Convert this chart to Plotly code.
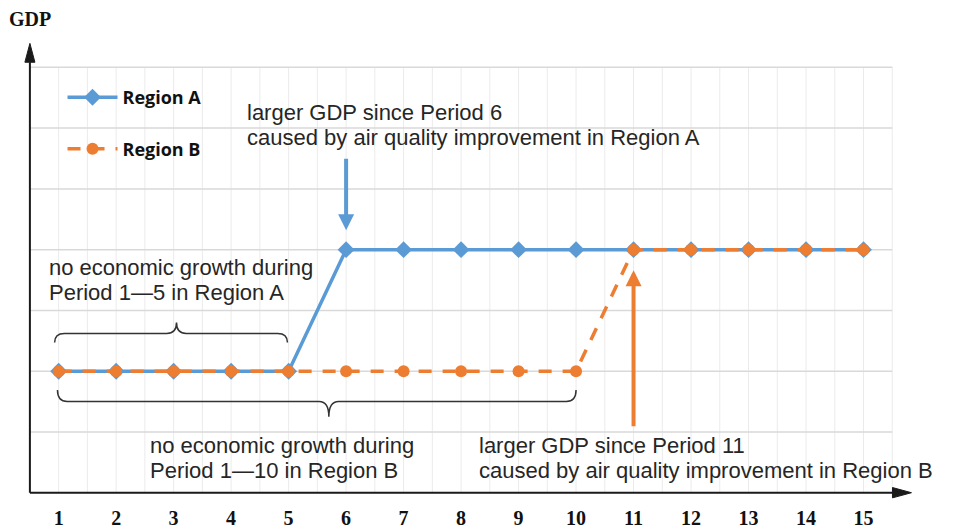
import plotly.graph_objects as go

# ---- data -------------------------------------------------------------
periods = list(range(1, 16))
tick_labels = [str(p) for p in periods]
gdp_region_a = [2, 2, 2, 2, 2, 4, 4, 4, 4, 4, 4, 4, 4, 4, 4]
gdp_region_b = [2, 2, 2, 2, 2, 2, 2, 2, 2, 2, 4, 4, 4, 4, 4]
series_names = ["Region A", "Region B"]
gdp_levels = [1, 2, 3, 4, 5, 6, 7]

note_a_flat = ["no economic growth during", "Period 1\u20145 in Region A"]
note_b_flat = ["no economic growth during", "Period 1\u201410 in Region B"]
note_a_jump = ["larger GDP since Period 6", "caused by air quality improvement in Region A"]
note_b_jump = ["larger GDP since Period 11", "caused by air quality improvement in Region B"]

# ---- styling ----------------------------------------------------------
BLUE = "#5B9BD5"
ORANGE = "#ED7D31"
INK = "#262626"
SANS = "Liberation Sans, Arial, sans-serif"
SERIF = "Liberation Serif, Times New Roman, serif"

X0, X1 = periods[0] - 0.5, periods[-1] + 0.5      # axis origin / grid end
Y0, Y1 = 0, gdp_levels[-1]

fig = go.Figure()

# grid
shapes = []
half_steps = [X0 + 0.5 * k for k in range(1, 2 * len(periods) + 1)]
for gx in half_steps:
    shapes.append(dict(type="line", xref="x", yref="y", x0=gx, x1=gx, y0=Y0, y1=Y1,
                       line=dict(color="#ebebeb", width=1), layer="below"))
for gy in gdp_levels:
    shapes.append(dict(type="line", xref="x", yref="y", x0=X0, x1=X1, y0=gy, y1=gy,
                       line=dict(color="#d9d9d9", width=1.5), layer="below"))

# axes with arrow heads
AX = "#1a1a1a"
x_tip, y_tip = 15.834, 7.394
head_len_x, head_half_x = 0.33, 0.085
head_len_y, head_half_y = 0.31, 0.087
shapes.append(dict(type="line", xref="x", yref="y", x0=X0, x1=x_tip - head_len_x, y0=Y0, y1=Y0,
                   line=dict(color=AX, width=2)))
shapes.append(dict(type="path", xref="x", yref="y",
                   path=f"M{x_tip - head_len_x},{Y0 - head_half_x} L{x_tip},{Y0} L{x_tip - head_len_x},{Y0 + head_half_x} Z",
                   fillcolor=AX, line=dict(color=AX, width=1)))
shapes.append(dict(type="line", xref="x", yref="y", x0=X0, x1=X0, y0=Y0, y1=y_tip - head_len_y,
                   line=dict(color=AX, width=2)))
shapes.append(dict(type="path", xref="x", yref="y",
                   path=f"M{X0 - head_half_y},{y_tip - head_len_y} L{X0},{y_tip} L{X0 + head_half_y},{y_tip - head_len_y} Z",
                   fillcolor=AX, line=dict(color=AX, width=1)))


def brace(xa, xb, xm, y_end, y_mid, y_tip_, r=0.17):
    return (f"M{xa},{y_end} Q{xa},{y_mid} {xa + r},{y_mid} L{xm - r},{y_mid} "
            f"Q{xm},{y_mid} {xm},{y_tip_} Q{xm},{y_mid} {xm + r},{y_mid} "
            f"L{xb - r},{y_mid} Q{xb},{y_mid} {xb},{y_end}")


# brace above the flat stretch of Region A, brace below the flat stretch of Region B
shapes.append(dict(type="path", xref="x", yref="y",
                   path=brace(0.93, 4.98, 3.05, 2.47, 2.62, 2.80),
                   line=dict(color="#333333", width=1.5)))
shapes.append(dict(type="path", xref="x", yref="y",
                   path=brace(0.98, 10.0, 5.7, 1.69, 1.50, 1.25),
                   line=dict(color="#333333", width=1.5)))

# series
fig.add_trace(go.Scatter(
    x=periods, y=gdp_region_a, name=series_names[0], mode="lines+markers",
    line=dict(color=BLUE, width=3.5),
    marker=dict(symbol="diamond", size=13, color=BLUE),
    legend="legend",
))
fig.add_trace(go.Scatter(
    x=periods, y=gdp_region_b, name=series_names[1], mode="lines+markers",
    line=dict(color=ORANGE, width=3.5, dash="13px,11px"),
    marker=dict(symbol="circle", size=12, color=ORANGE),
    legend="legend2",
))

# notes
annotations = []


def note(lines, x, y_first, dy=0.41):
    for i, t in enumerate(lines):
        annotations.append(dict(x=x, y=y_first - i * dy, xref="x", yref="y", text=t,
                                showarrow=False, xanchor="left", yanchor="middle",
                                font=dict(family=SANS, size=22, color=INK)))


note(note_a_flat, 0.79, 3.70)
note(note_b_flat, 2.55, 0.78)
note(note_a_jump, 4.235, 6.25)
note(note_b_jump, 8.27, 0.78)

# arrows pointing at the jumps
annotations.append(dict(x=6, y=4.32, ax=6, ay=5.52, xref="x", yref="y", axref="x", ayref="y",
                        text="", showarrow=True, arrowhead=2, arrowsize=0.8, arrowwidth=4,
                        arrowcolor=BLUE, standoff=0))
annotations.append(dict(x=11, y=3.66, ax=11, ay=1.07, xref="x", yref="y", axref="x", ayref="y",
                        text="", showarrow=True, arrowhead=2, arrowsize=0.8, arrowwidth=4,
                        arrowcolor=ORANGE, standoff=0))

# axis titles
annotations.append(dict(x=0.5, y=1.0, xref="x", yref="paper", text="<b>GDP</b>", showarrow=False,
                        xanchor="center", yanchor="bottom", yshift=8,
                        font=dict(family=SERIF, size=20, color="#111111")))
annotations.append(dict(xref="x", yref="y", x=15.85, y=-0.52, text="<b>Time</b>", showarrow=False,
                        xanchor="left", yanchor="middle",
                        font=dict(family=SERIF, size=20, color="#111111")))

legend_common = dict(
    font=dict(family="Open Sans, sans-serif", size=18, color="#111111", weight="bold"),
    bgcolor="rgba(0,0,0,0)", borderwidth=0, xanchor="left", yanchor="middle",
    itemwidth=50,
)

fig.update_layout(
    width=953, height=531,
    margin=dict(l=23.35, r=31.5, t=39.6, b=30.7, pad=0, autoexpand=False),
    paper_bgcolor="white", plot_bgcolor="white",
    showlegend=True,
    legend=dict(x=0.044, y=0.875, **legend_common),
    legend2=dict(x=0.044, y=0.763, **legend_common),
    xaxis=dict(range=[0.38, 16.0], showgrid=False, zeroline=False, showline=False,
               automargin=False, ticklabelstandoff=4,
               tickmode="array", tickvals=periods, ticktext=[f"<b>{t}</b>" for t in tick_labels],
               ticks="", tickfont=dict(family=SERIF, size=20, color="#111111")),
    yaxis=dict(range=[-0.12, 7.45], showgrid=False, zeroline=False, showline=False,
               automargin=False, showticklabels=False, ticks=""),
    shapes=shapes,
    annotations=annotations,
)

fig.write_html("out.html")
